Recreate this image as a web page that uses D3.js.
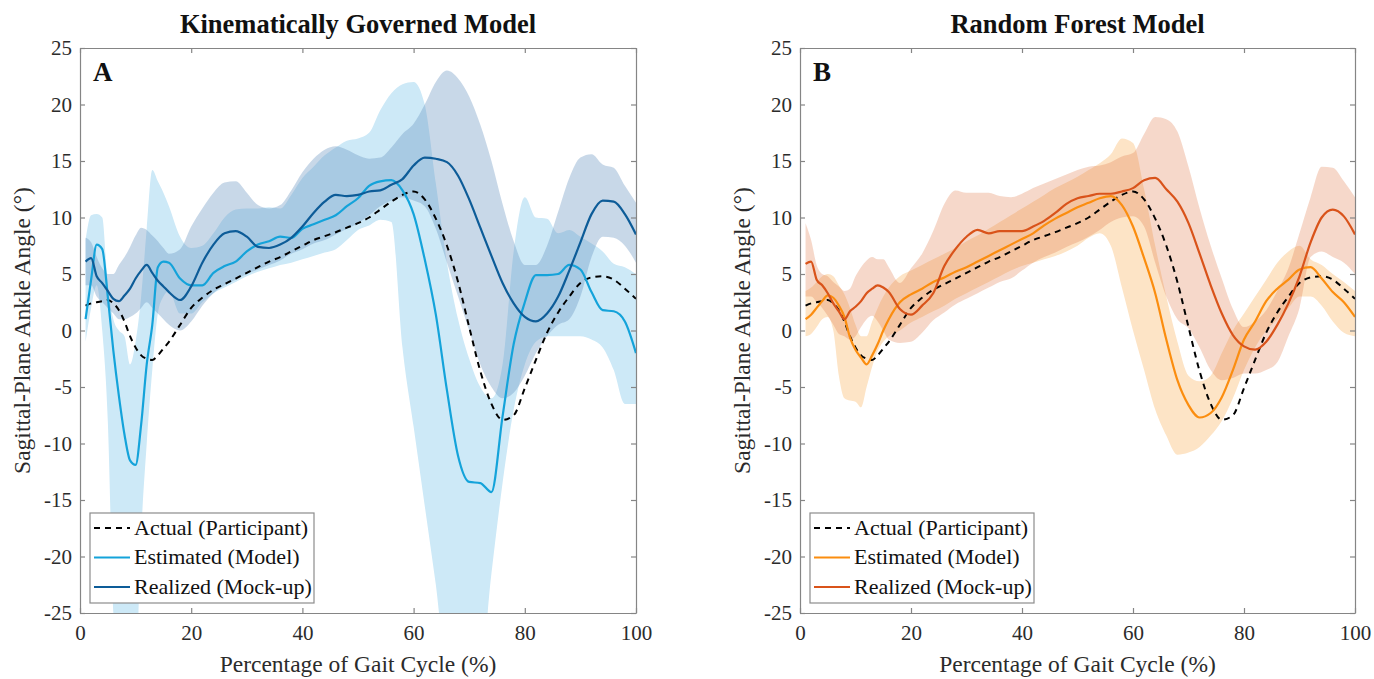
<!DOCTYPE html>
<html>
<head>
<meta charset="utf-8">
<script src="https://cdn.jsdelivr.net/npm/d3@7"></script>
<style>
  body { margin: 0; background: #fff; }
  svg { display: block; font-family: "Liberation Serif", "Times New Roman", serif; }
</style>
</head>
<body>
<svg id="chart" width="1374" height="679"></svg>
<script>
// percentage of gait cycle (shared x grid)
var pct = [1,2,3,4,5,6,7,8,9,10,11,12,13,14,15,16,18,20,22,24,26,28,30,32,34,36,38,40,42,44,46,48,50,52,54,56,58,60,62,64,66,68,70,72,74,76,78,80,82,84,86,88,90,92,94,96,98,100];

// actual participant angle (same in both panels)
var actual = [2.2,2.4,2.5,2.6,2.7,2.4,1.8,0.8,-0.5,-1.5,-2.2,-2.5,-2.6,-2.2,-1.6,-1.0,0.5,2.0,2.9,3.6,4.1,4.6,5.1,5.6,6.1,6.5,7.0,7.5,8.0,8.35,8.7,9.1,9.5,10.0,10.7,11.4,12.0,12.3,11.6,9.9,7.5,4.3,0.3,-3.6,-6.5,-7.9,-7.5,-5.1,-2.6,-0.2,1.6,3.0,4.2,4.7,4.8,4.5,3.7,2.8];

// panel A - kinematically governed model
var estA = [1.0,4.5,7.6,7.2,3.0,-1.8,-5.8,-9.2,-11.5,-11.9,-8.3,-3.0,0.5,5.6,6.1,6.0,4.6,4.0,4.0,5.1,5.7,6.1,7.0,7.6,7.9,8.3,8.2,9.0,9.4,9.8,10.2,11.0,11.7,12.8,13.2,13.3,12.4,10.3,6.3,1.4,-5.3,-11.1,-13.4,-13.5,-14.3,-7.6,-1.2,2.5,4.9,4.9,5.0,5.8,5.4,3.4,1.8,1.7,0.8,-2.0];
var estAHi = [8.0,10.2,10.3,10.0,4.0,1.0,0.0,-0.5,-3.0,-1.0,3.0,9.0,14.2,13.2,12.2,11.0,8.3,7.3,7.5,8.6,10.0,10.7,10.8,10.8,10.9,10.8,12.0,13.5,14.5,15.5,16.2,16.8,17.0,17.5,19.5,21.0,21.8,22.0,20.0,13.0,6.0,1.0,-2.5,-5.0,-6.0,-3.0,7.0,11.8,10.0,9.9,8.6,8.9,8.3,7.7,7.0,5.9,5.6,5.0];
var estALo = [-1.0,2.0,4.0,0.0,-8.0,-25.0,-30,-30,-30,-30,-18.0,-10.0,-3.5,1.5,3.0,3.5,1.5,1.5,2.5,3.3,3.8,4.3,4.8,5.2,5.5,5.8,6.0,6.3,6.6,6.9,7.2,8.0,8.9,9.3,9.8,9.6,-1.5,-8.5,-15.5,-22.5,-30,-30,-30,-30,-21.5,-13.5,-7.0,-3.0,-1.0,-0.5,-0.5,-0.5,-0.5,-0.8,-1.5,-3.5,-6.5,-6.5];
var realA = [6.1,6.4,4.8,4.2,3.5,2.8,2.6,3.1,3.7,4.6,5.3,5.8,5.1,4.4,3.9,3.4,2.7,3.9,6.0,7.6,8.6,8.8,8.3,7.4,7.3,7.6,8.2,9.2,10.4,11.4,12.0,11.9,12.0,12.3,12.4,12.9,13.4,14.6,15.3,15.2,14.9,13.7,11.6,9.1,6.6,4.2,2.4,1.2,0.8,1.5,3.0,5.3,7.8,10.3,11.5,11.4,10.3,8.5];
var realAHi = [8.2,7.8,6.5,5.5,5.0,5.0,5.8,6.5,7.4,8.4,9.1,8.9,8.4,7.9,7.3,6.8,7.2,9.2,10.8,12.2,13.1,13.2,12.2,11.1,10.8,11.1,12.4,14.0,15.2,16.0,16.3,16.0,15.5,15.2,15.3,16.2,17.4,18.3,20.0,22.0,23.0,22.3,20.7,18.2,15.0,11.2,7.9,5.8,5.8,7.5,10.5,13.5,15.3,15.6,14.7,14.4,12.8,11.3];
var realALo = [4.0,4.0,3.0,2.5,2.0,1.5,1.0,1.0,1.2,1.5,2.0,2.5,2.0,1.5,1.0,0.5,0.0,0.8,2.2,3.3,4.0,4.5,5.0,5.4,5.8,6.2,6.8,7.2,7.7,8.0,8.5,9.0,9.5,10.2,11.0,11.5,11.8,11.5,11.0,9.0,6.0,3.0,0.0,-3.0,-5.0,-6.0,-5.5,-4.0,-2.0,-0.5,0.5,1.0,3.0,6.5,8.3,8.2,7.5,6.0];

// panel B - random forest model
var estB = [1.0,1.4,2.0,2.6,3.1,2.9,2.2,1.2,-0.6,-1.7,-2.4,-3.0,-2.2,-1.2,0.0,1.0,2.5,3.2,3.7,4.3,4.7,5.2,5.6,6.1,6.6,7.1,7.6,8.1,8.6,9.3,9.9,10.4,10.9,11.3,11.7,11.9,11.1,9.2,6.4,3.3,-0.8,-4.4,-6.6,-7.7,-7.3,-5.9,-3.5,-0.8,0.8,2.6,3.7,4.5,5.4,5.6,4.6,3.4,2.5,1.2];
var estBHi = [3.5,3.8,4.3,4.8,5.0,4.8,4.0,3.2,2.0,0.5,-0.5,-0.5,0.8,2.0,3.0,3.8,4.8,5.3,5.8,6.3,6.8,7.3,7.9,8.4,9.0,9.6,10.2,10.8,11.4,12.0,12.6,13.1,13.6,14.2,14.8,15.6,17.0,16.6,12.5,7.5,3.0,-1.0,-4.0,-4.5,-4.0,-2.0,0.0,1.5,3.0,4.5,6.0,7.0,7.5,6.3,5.8,5.0,4.3,3.5];
var estBLo = [-0.5,-0.3,0.3,1.0,1.2,0.0,-4.0,-6.0,-6.2,-6.3,-6.8,-5.0,-3.2,-1.8,-1.0,-0.5,0.0,0.7,1.2,1.7,2.2,2.8,3.3,3.8,4.3,4.8,5.3,5.7,6.0,6.3,6.6,7.0,7.5,8.2,8.6,7.5,3.8,0.0,-3.5,-7.0,-9.3,-11.0,-10.8,-10.3,-9.3,-8.0,-6.0,-3.5,-1.5,0.0,1.0,2.0,3.0,3.0,2.2,0.8,-0.2,-0.5];
var realB = [5.9,6.1,4.5,4.0,3.3,2.4,1.7,1.0,1.7,2.1,2.6,3.3,3.7,4.0,3.8,3.4,1.9,1.4,2.2,3.3,5.7,7.2,8.3,8.9,8.6,8.8,8.8,8.8,9.2,9.7,10.4,11.2,11.7,11.9,12.1,12.1,12.3,12.6,13.3,13.5,12.5,11.4,9.5,6.8,4.0,1.5,-0.4,-1.4,-1.7,-1.0,0.5,2.4,4.8,7.8,10.0,10.7,10.1,8.5];
var realBHi = [9.5,8.0,5.8,5.0,4.8,4.3,3.9,3.5,3.7,4.8,5.6,6.2,6.5,6.3,6.3,5.6,4.2,5.5,6.8,8.8,11.2,12.4,12.2,12.2,12.2,11.9,11.8,12.1,12.6,13.0,13.4,13.8,14.2,14.5,14.6,14.9,15.4,15.7,17.4,18.9,18.7,17.6,14.5,10.8,7.5,4.6,1.9,0.3,0.8,1.8,3.5,5.5,8.6,11.8,14.5,14.4,13.2,11.8];
var realBLo = [3.0,3.0,2.5,2.0,1.3,0.5,-0.3,-0.5,-0.8,-0.5,0.3,1.0,1.3,0.8,0.0,-0.8,-1.1,-1.0,-0.2,0.9,1.6,2.3,2.8,3.3,3.8,4.3,4.6,5.3,6.0,6.5,6.9,7.4,7.8,8.3,8.9,9.6,10.0,10.1,9.2,6.0,3.0,1.0,0.2,-1.5,-3.5,-4.4,-4.2,-3.8,-3.8,-3.5,-2.8,-0.5,2.0,6.5,7.0,6.5,6.0,5.0];

// ticks and labels
var xTicks = [0,20,40,60,80,100];
var yTicks = [-25,-20,-15,-10,-5,0,5,10,15,20,25];
var legendLabels = ["Actual (Participant)","Estimated (Model)","Realized (Mock-up)"];

var svg = d3.select("#chart");
var top_y = 48, bottom_y = 613;

function drawPanel(p) {
	var xs = d3.scaleLinear().domain([0,100]).range([p.left,p.right]);
	var ys = d3.scaleLinear().domain([-25,25]).range([bottom_y,top_y]);
	var idx = d3.range(pct.length);
	var g = svg.append("g");

	// clip to the axes box
	svg.append("clipPath").attr("id","clip"+p.tag)
		.append("rect").attr("x",p.left).attr("y",top_y)
		.attr("width",p.right-p.left).attr("height",bottom_y-top_y);
	var plot = g.append("g").attr("clip-path","url(#clip"+p.tag+")");

	var band = function(lo,hi) {
		return d3.area().curve(d3.curveMonotoneX)
			.x(function(i) {return xs(pct[i]);})
			.y0(function(i) {return ys(lo[i]);})
			.y1(function(i) {return ys(hi[i]);});
	};
	var line = function(v) {
		return d3.line().curve(d3.curveMonotoneX)
			.x(function(i) {return xs(pct[i]);})
			.y(function(i) {return ys(v[i]);});
	};

	// shaded bands
	plot.append("path").datum(idx)
		.attr("fill",p.estBand).attr("d",band(p.estLo,p.estHi)(idx));
	plot.append("path").datum(idx)
		.attr("fill",p.realBand).attr("fill-opacity",p.realAlpha)
		.attr("d",band(p.realLo,p.realHi)(idx));

	// lines
	plot.append("path").attr("fill","none").attr("stroke","#000")
		.attr("stroke-width",2).attr("stroke-dasharray","6,5")
		.attr("d",line(actual)(idx));
	plot.append("path").attr("fill","none").attr("stroke",p.estColor)
		.attr("stroke-width",2.2).attr("d",line(p.est)(idx));
	plot.append("path").attr("fill","none").attr("stroke",p.realColor)
		.attr("stroke-width",2.2).attr("d",line(p.real)(idx));

	// axes (ticks inward on all four sides)
	var axisColor = "#858585";
	var fmt = function(d) {return String(d);};
	var styleAxis = function(sel) {
		sel.select(".domain").attr("stroke",axisColor).attr("stroke-width",1.2);
		sel.selectAll(".tick line").attr("stroke",axisColor).attr("stroke-width",1.2);
		sel.selectAll("text").attr("fill","#2b2b2b").attr("font-size","21px")
			.attr("font-family","Liberation Serif, serif");
	};
	g.append("g").attr("transform","translate(0,"+bottom_y+")")
		.call(d3.axisBottom(xs).tickValues(xTicks).tickFormat(fmt).tickSizeInner(-5).tickSizeOuter(0).tickPadding(12))
		.call(styleAxis);
	g.append("g").attr("transform","translate(0,"+top_y+")")
		.call(d3.axisTop(xs).tickValues(xTicks).tickFormat("").tickSizeInner(-5).tickSizeOuter(0))
		.call(styleAxis);
	g.append("g").attr("transform","translate("+p.left+",0)")
		.call(d3.axisLeft(ys).tickValues(yTicks).tickFormat(fmt).tickSizeInner(-5).tickSizeOuter(0).tickPadding(8))
		.call(styleAxis);
	g.append("g").attr("transform","translate("+p.right+",0)")
		.call(d3.axisRight(ys).tickValues(yTicks).tickFormat("").tickSizeInner(-5).tickSizeOuter(0))
		.call(styleAxis);

	// titles and labels
	var cx = (p.left+p.right)/2;
	g.append("text").attr("x",cx).attr("y",33).attr("text-anchor","middle")
		.attr("font-weight","bold").attr("font-size","26.5px").attr("fill","#111")
		.text(p.title);
	g.append("text").attr("x",p.left+13).attr("y",81)
		.attr("font-weight","bold").attr("font-size","27px").attr("fill","#111")
		.text(p.tag);
	g.append("text").attr("x",cx).attr("y",672).attr("text-anchor","middle")
		.attr("font-size","23.5px").attr("fill","#2b2b2b")
		.text("Percentage of Gait Cycle (%)");
	g.append("text").attr("transform","translate("+(p.left-50)+","+((top_y+bottom_y)/2)+") rotate(-90)")
		.attr("text-anchor","middle").attr("font-size","23.5px").attr("fill","#2b2b2b")
		.text("Sagittal-Plane Ankle Angle (\u00b0)");

	// legend
	var lg = g.append("g").attr("transform","translate("+(p.left+10)+",513)");
	lg.append("rect").attr("width",224).attr("height",90)
		.attr("fill","#fff").attr("stroke","#8c8c8c").attr("stroke-width",1.2);
	var colors = ["#000",p.estColor,p.realColor];
	legendLabels.forEach(function(lab,i) {
		var yy = 15 + i*29.5;
		lg.append("line").attr("x1",4).attr("x2",40).attr("y1",yy).attr("y2",yy)
			.attr("stroke",colors[i]).attr("stroke-width",2.2)
			.attr("stroke-dasharray",i==0 ? "6,5" : null);
		lg.append("text").attr("x",44).attr("y",yy+6.5)
			.attr("font-size","22px").attr("fill","#111").text(lab);
	});
}

drawPanel({tag:"A", title:"Kinematically Governed Model", left:80, right:636,
	est:estA, estHi:estAHi, estLo:estALo, real:realA, realHi:realAHi, realLo:realALo,
	estColor:"#14a3da", realColor:"#0d5c98", estBand:"#cde9f7", realBand:"#6693bf", realAlpha:0.36});
drawPanel({tag:"B", title:"Random Forest Model", left:800, right:1355,
	est:estB, estHi:estBHi, estLo:estBLo, real:realB, realHi:realBHi, realLo:realBLo,
	estColor:"#fb8d0f", realColor:"#d9531a", estBand:"#fde4c6", realBand:"#df7442", realAlpha:0.28});
</script>
</body>
</html>
